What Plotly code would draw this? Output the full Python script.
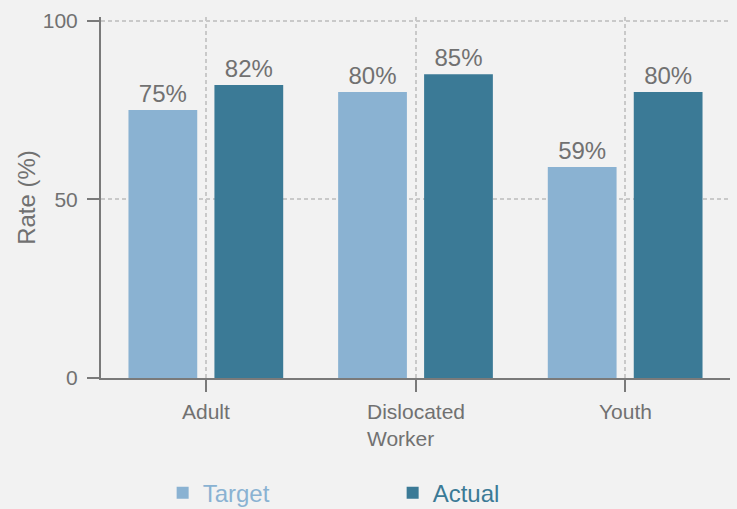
import plotly.graph_objects as go

# 데이터
categories = ["Adult", "Dislocated Worker", "Youth"]
category_labels = ["Adult", "Dislocated<br>Worker", "Youth"]
target = [75, 80, 59]
actual = [82, 85, 80]

COLOR_TARGET = "#8AB2D2"
COLOR_ACTUAL = "#3B7A96"
COLOR_TEXT = "#717171"
COLOR_AXIS = "#7A7A7A"
COLOR_GRID = "#C9C9C9"
FONT = "Liberation Sans, Arial, sans-serif"

fig = go.Figure()
for name, vals, color in [("Target", target, COLOR_TARGET), ("Actual", actual, COLOR_ACTUAL)]:
    fig.add_trace(go.Bar(
        x=categories, y=vals,
        name=f'<span style="color:{color}">{name}</span>',
        marker=dict(color=color, line_width=0),
        texttemplate="%{y}%", textposition="outside",
        textfont=dict(size=24, color=COLOR_TEXT),
        cliponaxis=False,
    ))

# x축 라벨 (왼쪽 정렬 여러 줄)
for cat, lab in zip(categories, category_labels):
    fig.add_annotation(
        x=cat, y=0, xref="x", yref="paper", yanchor="top", yshift=-20,
        text=lab, showarrow=False, align="left",
        font=dict(size=21, color=COLOR_TEXT),
    )

fig.update_layout(
    width=737, height=509,
    paper_bgcolor="#F2F2F2", plot_bgcolor="#F2F2F2",
    font=dict(family=FONT, color=COLOR_TEXT),
    barmode="group", bargap=0.18, bargroupgap=0.2,
    margin=dict(l=101, r=7, t=17, b=131, autoexpand=False),
    showlegend=True,
    legend=dict(
        orientation="h", x=0.098, y=0.031, xanchor="left", yanchor="middle",
        yref="container",
        font=dict(size=24), entrywidth=185, bgcolor="rgba(0,0,0,0)",
    ),
    xaxis=dict(
        showgrid=True, gridcolor=COLOR_GRID, griddash="4px,3px", gridwidth=1.5,
        showline=True, linecolor=COLOR_AXIS, linewidth=2,
        ticks="outside", ticklen=12, tickcolor=COLOR_AXIS, tickwidth=2,
        showticklabels=False, range=[-0.5, 2.5],
    ),
    yaxis=dict(
        range=[0, 101], tickvals=[0, 50, 100],
        showgrid=True, gridcolor=COLOR_GRID, griddash="4px,3px", gridwidth=1.5,
        showline=True, linecolor=COLOR_AXIS, linewidth=2,
        ticks="outside", ticklen=12, tickcolor=COLOR_AXIS, tickwidth=2,
        tickfont=dict(size=21), zeroline=False, ticklabelstandoff=5,
        title=dict(text="Rate (%)", font=dict(size=24), standoff=0),
    ),
)

fig.write_html(
    "out.html",
    config={"displayModeBar": False},
    post_script="document.body.style.margin='0';",
)
